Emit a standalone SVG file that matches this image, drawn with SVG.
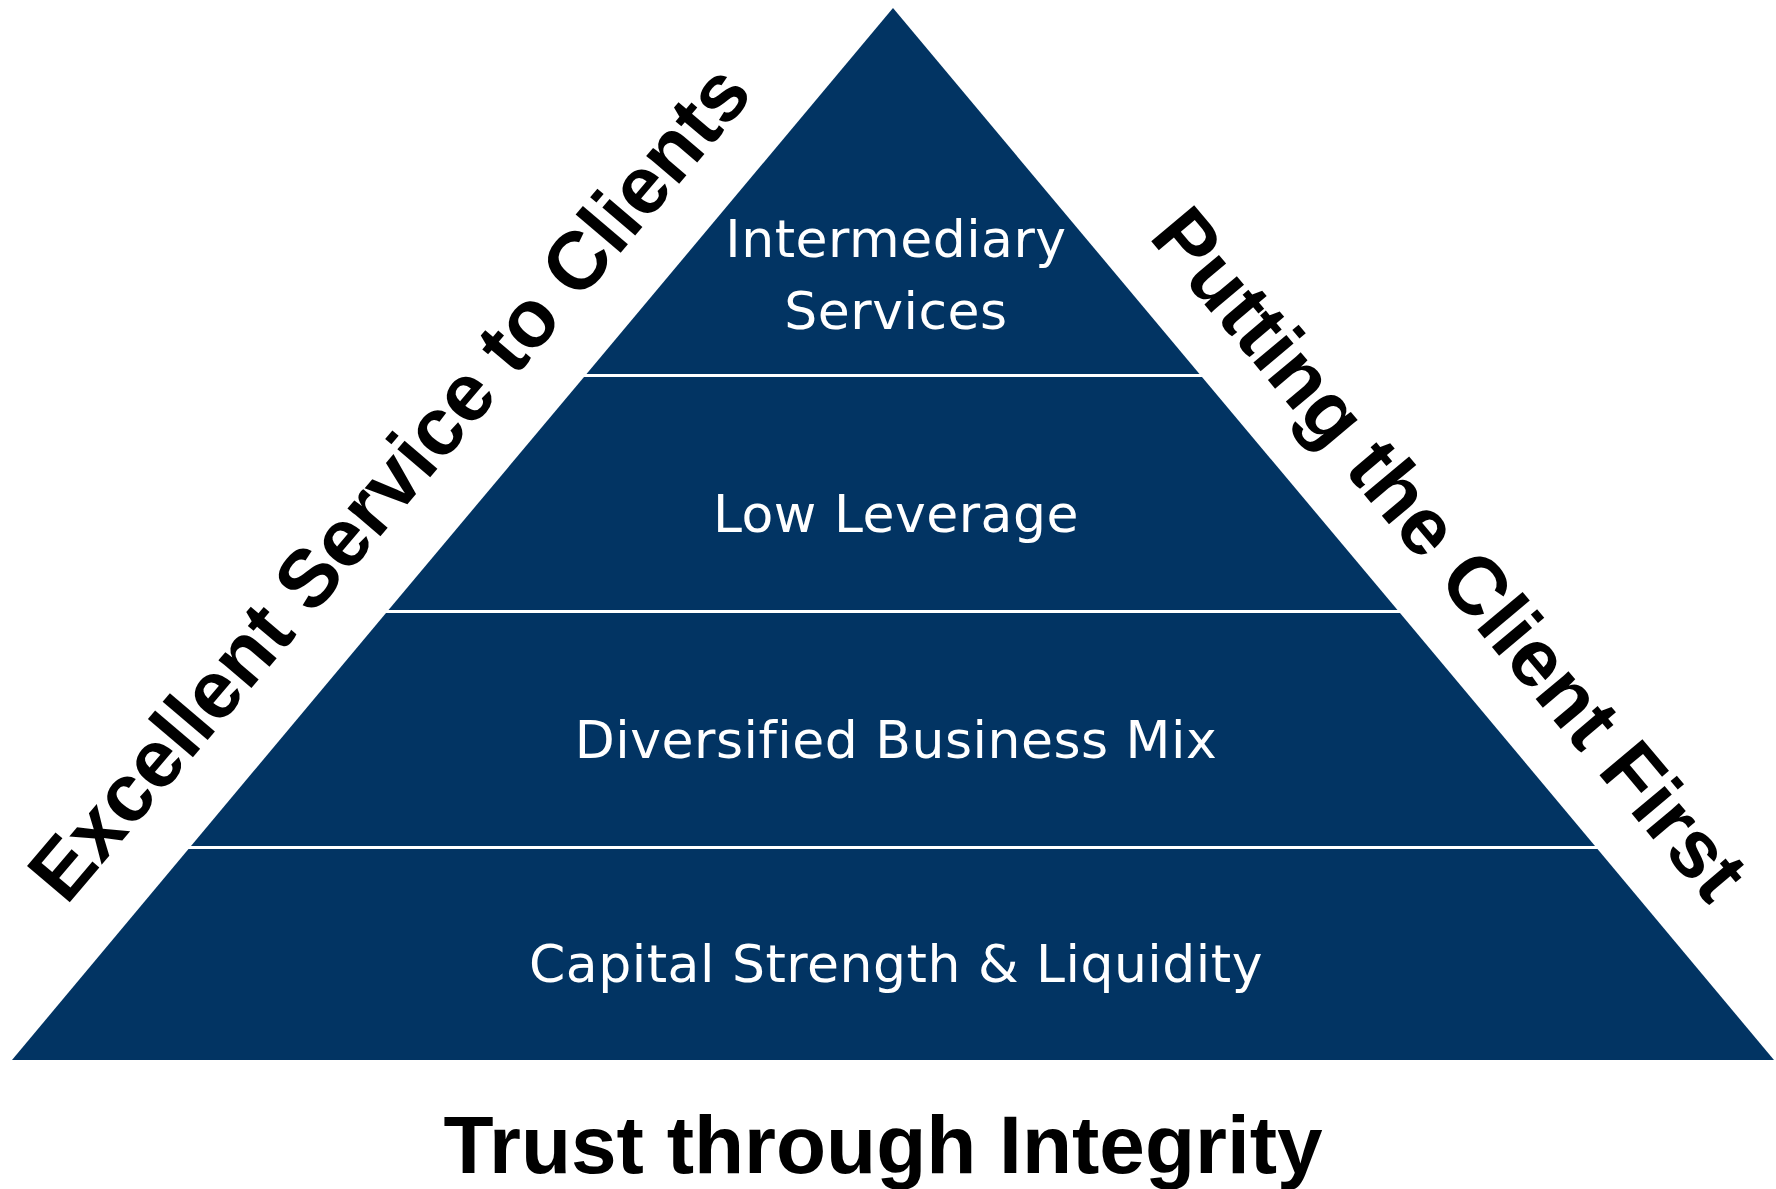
<svg xmlns="http://www.w3.org/2000/svg" width="1776" height="1189" viewBox="0 0 1776 1189">
  <style>
    .tier { fill: #023463; }
    .tier-label { font-family: "DejaVu Sans", Verdana, sans-serif; font-size: 52px; letter-spacing: 0.5px; fill: #ffffff; text-anchor: middle; }
    .side-label { font-family: "Liberation Sans", Arial, sans-serif; font-weight: bold; font-size: 81.5px; fill: #000000; text-anchor: middle; }
    .base-label { font-size: 82px; }
  </style>
  <rect x="0" y="0" width="1776" height="1189" fill="#ffffff"/>

  <!-- pyramid tiers, top to bottom, separated by thin white gaps -->
  <g id="tier-intermediary">
    <polygon class="tier" points="893,8 1199.5,374 586.5,374"/>
    <text class="tier-label" x="896" y="257">Intermediary</text>
    <text class="tier-label" x="896" y="329">Services</text>
  </g>
  <g id="tier-leverage">
    <polygon class="tier" points="584,377 1202,377 1397.5,610 388.5,610"/>
    <text class="tier-label" x="896" y="532">Low Leverage</text>
  </g>
  <g id="tier-business-mix">
    <polygon class="tier" points="386,613 1400,613 1595,846 191,846"/>
    <text class="tier-label" x="896" y="758">Diversified Business Mix</text>
  </g>
  <g id="tier-capital">
    <polygon class="tier" points="188.5,849 1597.5,849 1774,1060 12,1060"/>
    <text class="tier-label" x="896" y="982">Capital Strength &amp; Liquidity</text>
  </g>

  <!-- labels along the pyramid sides and base -->
  <g id="label-left">
    <text class="side-label" transform="translate(410.4,500.7) rotate(-49.7)">Excellent Service to Clients</text>
  </g>
  <g id="label-right">
    <text class="side-label" transform="translate(1428.7,571.7) rotate(50)">Putting the Client First</text>
  </g>
  <g id="label-base">
    <text class="side-label base-label" x="883" y="1173">Trust through Integrity</text>
  </g>

  <g id="connectors"></g>
</svg>
